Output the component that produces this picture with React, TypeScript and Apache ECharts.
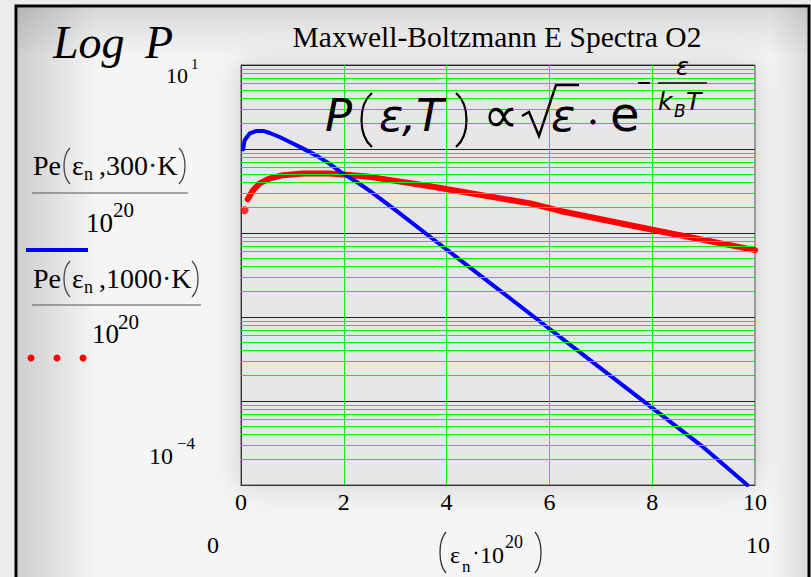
import React, { useEffect, useRef } from "react";
import * as echarts from "echarts";

// Energy grid (εn · 10^20) and spectra Pe(εn, T) / 10^20, log scale
const energies300 = [0.04, 0.07, 0.17, 0.3, 0.43, 0.56, 0.75, 0.95, 1.21, 1.46, 1.72, 1.98, 2.24, 2.5, 3.0, 4.0, 5.0, 6.0, 7.0, 8.0, 9.0, 9.85];
const spectrum300 = [0.99, 1.27, 1.53, 1.64, 1.64, 1.55, 1.39, 1.21, 1.01, 0.84, 0.67, 0.51, 0.41, 0.32, 0.188, 0.0636, 0.0215, 0.00724, 0.00245, 0.00083, 0.00028, 0.0001];

const energies1000 = [0.13, 0.23, 0.36, 0.56, 0.82, 1.21, 1.72, 2.05, 2.5, 3.68, 5.63, 6.21, 7.98, 10.0];
const spectrum1000 = [0.252, 0.32, 0.39, 0.446, 0.488, 0.51, 0.51, 0.494, 0.466, 0.36, 0.225, 0.183, 0.11, 0.0625];
// first sample of the 1000 K trace, drawn as a lone dot
const firstPoint1000 = [0.07, 0.187];

const xTicks = [0, 2, 4, 6, 8, 10];
const xRangeLabels = ["0", "10"];
const yTopLabel = { base: "10", exp: "1" };
const yBottomLabel = { base: "10", exp: "−4" };
const decades = [1e-4, 1e-3, 1e-2, 1e-1, 1];
const minorMultipliers = [2, 3, 4, 5, 6, 7, 8, 9];

const SERIF = '"Liberation Serif", "Times New Roman", serif';
const SANS = '"DejaVu Sans", Verdana, sans-serif';

type T = Record<string, any>;

function txt(text: string, x: number, y: number, fontSize: number, opts: T = {}): T {
  return {
    type: "text",
    z: 10,
    silent: true,
    style: {
      text,
      x,
      y,
      fontSize,
      fontFamily: opts.family || SERIF,
      fontStyle: opts.italic ? "italic" : "normal",
      fill: opts.fill || "#000",
      align: opts.align || "left",
      verticalAlign: "middle",
    },
  };
}

function paren(x: number, yTop: number, yBottom: number, bulge: number, color = "#222", width = 1.6): T {
  const h = yBottom - yTop;
  return {
    type: "bezierCurve",
    z: 10,
    silent: true,
    shape: {
      x1: x,
      y1: yTop,
      x2: x,
      y2: yBottom,
      cpx1: x + bulge,
      cpy1: yTop + h * 0.22,
      cpx2: x + bulge,
      cpy2: yTop + h * 0.78,
    },
    style: { stroke: color, lineWidth: width, fill: "none" },
  };
}

function seg(x1: number, y1: number, x2: number, y2: number, color: string, width: number): T {
  return { type: "line", z: 10, silent: true, shape: { x1, y1, x2, y2 }, style: { stroke: color, lineWidth: width } };
}

export default function App() {
  const ref = useRef<HTMLDivElement>(null);

  useEffect(() => {
    if (!ref.current) return;
    const chart = echarts.init(ref.current, null, { renderer: "svg" });

    const data300 = energies300.map((e, i) => [e, spectrum300[i]]);
    const data1000 = energies1000.map((e, i) => [e, spectrum1000[i]]);
    const minorGrid = decades.flatMap((d) => minorMultipliers.map((m) => ({ yAxis: d * m })));

    const graphics: T[] = [
      // sheet frame and soft shading
      {
        type: "rect",
        z: -10,
        silent: true,
        shape: { x: 16, y: 6, width: 793, height: 620 },
        style: { fill: "#f5f5f5", stroke: "#000", lineWidth: 3 },
      },
      {
        type: "rect",
        z: -9,
        silent: true,
        shape: { x: 17.5, y: 7.5, width: 80, height: 600 },
        style: {
          fill: new echarts.graphic.LinearGradient(0, 0, 1, 0, [
            { offset: 0, color: "rgba(0,0,0,0.16)" },
            { offset: 1, color: "rgba(0,0,0,0)" },
          ]),
        },
      },
      {
        type: "rect",
        z: -9,
        silent: true,
        shape: { x: 17.5, y: 7.5, width: 790, height: 50 },
        style: {
          fill: new echarts.graphic.LinearGradient(0, 0, 0, 1, [
            { offset: 0, color: "rgba(0,0,0,0.12)" },
            { offset: 1, color: "rgba(0,0,0,0)" },
          ]),
        },
      },
      {
        type: "rect",
        z: -9,
        silent: true,
        shape: { x: 770, y: 7.5, width: 37.5, height: 600 },
        style: {
          fill: new echarts.graphic.LinearGradient(0, 0, 1, 0, [
            { offset: 0, color: "rgba(0,0,0,0)" },
            { offset: 1, color: "rgba(0,0,0,0.1)" },
          ]),
        },
      },
      {
        type: "rect",
        z: -8,
        silent: true,
        shape: { x: 241, y: 65, width: 514, height: 420 },
        style: { fill: "#e6e6e6", shadowBlur: 30, shadowColor: "rgba(0,0,0,0.18)" },
      },

      // "Log P" with the top decade label
      txt("Log", 53, 42.5, 46, { italic: true }),
      txt("P", 145, 42.5, 46, { italic: true }),
      txt(yTopLabel.base, 166, 75, 22),
      txt(yTopLabel.exp, 191, 64, 15),
      txt(yBottomLabel.base, 149, 455.5, 24),
      txt(yBottomLabel.exp, 177, 443, 17),

      // title
      txt("Maxwell-Boltzmann E Spectra O2", 497, 37, 29.5, { align: "center" }),

      // formula P(ε,T) ∝ √ε · e^(−ε/(k_B T))
      txt("P", 325, 115, 45, { italic: true, family: SANS }),
      paren(372, 93, 147, -14, "#000", 2.2),
      txt("ε", 379, 115, 45, { italic: true, family: SANS }),
      txt(",", 402, 115, 45, { italic: true, family: SANS }),
      txt("T", 416, 115, 45, { italic: true, family: SANS }),
      paren(456, 93, 147, 14, "#000", 2.2),
      txt("∝", 483, 115, 50, { family: SANS }),
      {
        type: "polyline",
        z: 10,
        silent: true,
        shape: { points: [[522, 116], [529, 112], [539, 136], [556, 85], [579, 85]] },
        style: { stroke: "#000", lineWidth: 2.4, fill: "none" },
      },
      txt("ε", 551, 115, 45, { italic: true, family: SANS }),
      { type: "circle", z: 10, silent: true, shape: { cx: 593, cy: 122, r: 2.6 }, style: { fill: "#000" } },
      txt("e", 610, 114, 48, { family: SANS }),
      seg(638, 83, 650, 83, "#000", 2),
      txt("ε", 676, 66.5, 24, { italic: true, family: SANS }),
      seg(658, 83, 707, 83, "#000", 1.6),
      txt("k", 658, 101.5, 25, { italic: true, family: SANS }),
      txt("B", 674, 111, 17, { italic: true, family: SANS }),
      txt("T", 686, 101.5, 25, { italic: true, family: SANS }),

      // legend: Pe(εn,300·K)/10^20
      txt("Pe", 33, 165.5, 28),
      paren(70, 148, 184, -8, "#444", 1.3),
      txt("ε", 72, 165.5, 28),
      txt("n", 84, 174, 18),
      txt(",300·K", 99, 165.5, 28),
      paren(179, 148, 184, 8, "#444", 1.3),
      seg(32, 193, 188, 193, "#555", 1.2),
      txt("10", 86, 222.5, 27),
      txt("20", 113, 210, 21),
      seg(26, 250, 88, 250, "#0000ff", 4),

      // legend: Pe(εn,1000·K)/10^20
      txt("Pe", 33, 278.5, 28),
      paren(70, 261, 297, -8, "#444", 1.3),
      txt("ε", 72, 278.5, 28),
      txt("n", 84, 287, 18),
      txt(",1000·K", 99, 278.5, 28),
      paren(192, 261, 297, 8, "#444", 1.3),
      seg(32, 305, 201, 305, "#555", 1.2),
      txt("10", 92, 334, 27),
      txt("20", 118, 321.5, 21),
      { type: "circle", z: 10, silent: true, shape: { cx: 31, cy: 358, r: 3.5 }, style: { fill: "#ff0000" } },
      { type: "circle", z: 10, silent: true, shape: { cx: 57, cy: 358, r: 3.5 }, style: { fill: "#ff0000" } },
      { type: "circle", z: 10, silent: true, shape: { cx: 83, cy: 358, r: 3.5 }, style: { fill: "#ff0000" } },

      // x range and axis name (εn·10^20)
      txt(xRangeLabels[0], 213, 545, 24, { align: "center" }),
      txt(xRangeLabels[1], 758, 545, 24, { align: "center" }),
      paren(446, 532, 573, -8, "#333", 1.3),
      txt("ε", 450, 555, 24),
      txt("n", 462, 566, 17),
      { type: "circle", z: 10, silent: true, shape: { cx: 476, cy: 553, r: 1.3 }, style: { fill: "#000" } },
      txt("10", 480, 555, 24),
      txt("20", 505, 542, 18),
      paren(535, 532, 573, 8, "#333", 1.3),
    ];

    chart.setOption({
      animation: false,
      backgroundColor: "#ececec",
      grid: {
        show: true,
        left: 241,
        top: 65,
        width: 514,
        height: 420,
        backgroundColor: "transparent",
        borderColor: "#555",
        borderWidth: 1,
      },
      xAxis: {
        type: "value",
        min: 0,
        max: 10,
        interval: 2,
        axisLine: { show: true, onZero: false, lineStyle: { color: "#333", width: 1 } },
        axisTick: { show: false },
        axisLabel: {
          show: true,
          margin: 5,
          fontFamily: SERIF,
          fontSize: 24,
          color: "#000",
          formatter: (v: number) => (xTicks.includes(v) ? String(v) : ""),
        },
        splitLine: { show: true, showMinLine: false, showMaxLine: false, lineStyle: { color: "#0bef0b", width: 1 } },
      },
      yAxis: {
        type: "log",
        logBase: 10,
        min: 1e-4,
        max: 10,
        splitNumber: 5,
        axisLine: { show: true, lineStyle: { color: "#333", width: 1 } },
        axisTick: { show: false },
        axisLabel: { show: false },
        splitLine: { show: true, showMinLine: false, lineStyle: { color: "#222", width: 1 } },
      },
      graphic: { elements: graphics },
      series: [
        {
          type: "line",
          name: "grid",
          data: [],
          z: 1,
          silent: true,
          markLine: {
            silent: true,
            precision: 10,
            symbol: ["none", "none"],
            label: { show: false },
            lineStyle: { color: "#0bef0b", type: "solid", width: 1 },
            emphasis: { disabled: true },
            data: minorGrid,
          },
        },
        {
          type: "line",
          name: "1000 K",
          data: data1000,
          showSymbol: false,
          z: 3,
          lineStyle: { color: "#ff0000", width: 6, cap: "round", join: "round" },
        },
        {
          type: "scatter",
          name: "1000 K start",
          data: [firstPoint1000],
          symbolSize: 8,
          z: 3,
          itemStyle: { color: "#ff0000" },
        },
        {
          type: "line",
          name: "300 K",
          data: data300,
          showSymbol: false,
          z: 4,
          lineStyle: { color: "#0000ff", width: 4, cap: "round", join: "round" },
        },
      ],
    });

    return () => chart.dispose();
  }, []);

  return <div ref={ref} style={{ position: "fixed", left: 0, top: 0, width: 811, height: 577 }} />;
}
